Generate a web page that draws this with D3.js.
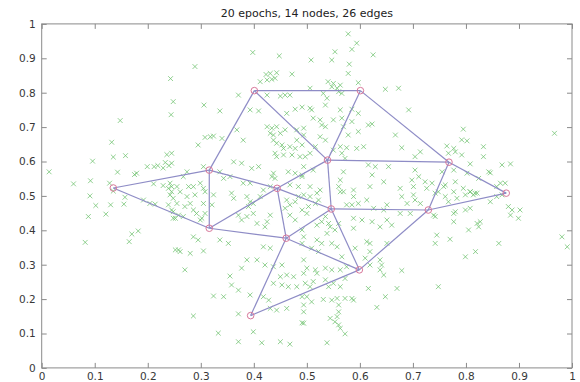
<!DOCTYPE html>
<html><head><meta charset="utf-8">
<script src="https://cdn.jsdelivr.net/npm/d3@7"></script>
<style>body{margin:0;background:#fff}svg{display:block}</style>
</head><body>
<svg id="c" width="580" height="382"></svg>
<script>
const title = "20 epochs, 14 nodes, 26 edges";
const tickValues = [0,0.1,0.2,0.3,0.4,0.5,0.6,0.7,0.8,0.9,1];
const tickLabels = ["0","0.1","0.2","0.3","0.4","0.5","0.6","0.7","0.8","0.9","1"];

// data samples (x, y)
const samplesX = [0.243,0.248,0.244,0.148,0.132,0.135,0.158,0.236,0.096,0.014,0.143,0.175,0.179,0.199,0.212,0.219,0.233,0.240,0.229,0.060,0.092,0.128,0.211,0.229,0.239,0.245,
0.289,0.398,0.448,0.423,0.431,0.443,0.472,0.412,0.425,0.434,0.440,0.371,0.425,0.450,0.459,0.468,0.306,0.336,0.393,0.409,0.478,0.491,0.462,0.368,0.425,0.434,0.443,0.431,0.437,0.450,0.459,0.481,0.494,0.308,0.318,0.324,0.340,0.380,0.295,0.437,0.443,0.453,0.456,0.468,0.478,0.481,0.440,0.443,0.456,0.472,0.487,0.362,0.377,0.409,0.396,0.305,0.437,0.434,0.440,0.465,0.478,0.491,0.274,0.267,0.336,0.343,0.355,0.245,0.245,0.242,0.255,0.286,0.305,0.299,0.380,0.393,0.418,0.431,0.468,0.484,0.261,0.277,0.289,
0.578,0.594,0.585,0.553,0.508,0.547,0.625,0.580,0.578,0.540,0.550,0.563,0.557,0.547,0.597,0.648,0.673,0.506,0.560,0.566,0.531,0.538,0.535,0.506,0.509,0.563,0.585,0.597,0.692,0.512,0.525,0.535,0.528,0.550,0.566,0.585,0.569,0.616,0.623,0.597,0.667,0.494,0.491,0.525,0.535,0.578,0.563,0.575,0.594,0.607,0.679,0.714,0.704,0.516,0.506,0.497,0.550,0.566,0.572,0.616,0.629,0.623,0.654,0.704,0.711,0.698,0.723,0.569,0.563,0.512,0.494,0.491,0.645,0.619,0.569,0.588,0.560,0.676,0.701,0.726,0.736,0.506,0.525,
0.967,0.795,0.792,0.802,0.764,0.777,0.780,0.767,0.833,0.792,0.833,0.808,0.868,0.884,0.755,0.777,0.843,0.846,0.802,0.780,0.761,0.758,0.824,0.865,0.874,0.858,0.795,0.808,0.817,0.777,0.742,
0.091,0.157,0.135,0.102,0.130,0.155,0.088,0.121,0.082,0.165,0.170,0.182,0.192,0.204,0.214,0.242,0.245,0.239,0.248,0.248,0.252,
0.248,0.255,0.245,0.258,0.267,0.252,0.270,0.280,0.274,0.286,0.308,0.324,0.305,0.321,0.308,0.302,0.358,0.362,0.387,0.393,0.390,0.399,0.412,0.371,0.387,0.377,0.399,0.406,0.425,0.431,0.421,0.462,0.459,0.468,0.478,0.468,0.478,0.491,0.484,0.491,0.494,0.491,0.286,0.295,0.336,0.352,0.258,0.261,0.280,0.305,0.418,0.431,0.270,0.387,0.406,0.377,0.421,0.437,0.453,0.355,0.450,0.462,0.475,0.453,0.437,0.481,0.465,0.358,0.371,0.393,0.324,0.343,0.418,0.428,0.431,0.443,0.462,0.491,0.494,0.371,0.286,0.399,0.333,0.371,0.415,0.450,0.468,0.491,0.292,0.299,
0.494,0.506,0.519,0.522,0.516,0.503,0.500,0.563,0.588,0.585,0.575,0.597,0.613,0.626,0.645,0.651,0.679,0.689,0.676,0.695,0.704,0.714,0.701,0.535,0.528,0.541,0.519,0.544,0.553,0.560,0.588,0.604,0.623,0.638,0.651,0.660,0.588,0.538,0.519,0.528,0.547,0.557,0.522,0.509,0.613,0.619,0.591,0.619,0.610,0.651,0.638,0.641,0.638,0.645,0.619,0.494,0.500,0.516,0.519,0.494,0.535,0.547,0.563,0.575,0.566,0.497,0.506,0.512,0.535,0.541,0.550,0.563,0.572,0.616,0.670,0.679,0.648,0.500,0.509,0.531,0.547,0.557,0.572,0.585,0.588,0.632,0.560,0.560,0.494,0.494,0.544,0.557,0.553,0.560,0.563,0.572,0.538,
0.739,0.742,0.748,0.761,0.767,0.783,0.799,0.808,0.814,0.821,0.846,0.858,0.868,0.777,0.780,0.777,0.799,0.808,0.880,0.887,0.884,0.899,0.902,0.821,0.827,0.824,0.805,0.745,0.742,0.770,0.818,0.799,0.862,0.981,0.991,0.748];
const samplesY = [0.841,0.774,0.736,0.719,0.656,0.613,0.617,0.620,0.601,0.570,0.569,0.562,0.566,0.585,0.585,0.588,0.597,0.588,0.581,0.535,0.544,0.537,0.535,0.530,0.522,0.527,
0.876,0.917,0.907,0.853,0.856,0.858,0.854,0.832,0.837,0.839,0.842,0.793,0.793,0.790,0.793,0.793,0.764,0.747,0.750,0.747,0.752,0.758,0.740,0.692,0.701,0.697,0.701,0.682,0.677,0.682,0.692,0.692,0.697,0.670,0.672,0.674,0.667,0.662,0.648,0.662,0.653,0.648,0.638,0.643,0.638,0.662,0.624,0.614,0.619,0.619,0.614,0.599,0.595,0.585,0.580,0.585,0.566,0.556,0.551,0.570,0.566,0.561,0.570,0.556,0.570,0.551,0.556,0.624,0.595,0.537,0.527,0.527,0.522,0.537,0.537,0.537,0.517,0.527,0.532,0.527,0.512,0.527,0.503,
0.971,0.944,0.926,0.919,0.895,0.895,0.910,0.883,0.856,0.832,0.827,0.822,0.813,0.817,0.829,0.810,0.813,0.813,0.803,0.798,0.798,0.784,0.764,0.755,0.750,0.750,0.752,0.740,0.750,0.726,0.721,0.701,0.706,0.721,0.726,0.716,0.701,0.706,0.709,0.687,0.677,0.677,0.648,0.672,0.662,0.677,0.643,0.640,0.638,0.643,0.640,0.628,0.614,0.643,0.624,0.614,0.633,0.624,0.609,0.590,0.585,0.561,0.585,0.575,0.556,0.546,0.541,0.570,0.546,0.575,0.585,0.556,0.541,0.527,0.512,0.517,0.527,0.522,0.527,0.522,0.537,0.527,0.517,
0.682,0.694,0.663,0.660,0.645,0.638,0.628,0.624,0.643,0.619,0.614,0.593,0.590,0.593,0.570,0.575,0.570,0.567,0.566,0.541,0.532,0.527,0.551,0.537,0.537,0.527,0.522,0.512,0.508,0.512,0.508,
0.500,0.496,0.514,0.472,0.474,0.476,0.440,0.447,0.365,0.367,0.389,0.398,0.488,0.478,0.476,0.503,0.512,0.474,0.454,0.435,0.343,
0.493,0.478,0.459,0.444,0.440,0.435,0.469,0.478,0.498,0.459,0.512,0.503,0.478,0.474,0.449,0.435,0.508,0.493,0.498,0.483,0.469,0.478,0.498,0.444,0.440,0.430,0.449,0.420,0.425,0.444,0.410,0.488,0.464,0.474,0.483,0.444,0.430,0.459,0.498,0.401,0.381,0.362,0.381,0.372,0.372,0.362,0.343,0.338,0.333,0.340,0.352,0.348,0.285,0.314,0.314,0.290,0.299,0.294,0.299,0.267,0.265,0.270,0.265,0.241,0.246,0.236,0.236,0.241,0.226,0.212,0.209,0.207,0.207,0.197,0.173,0.168,0.173,0.207,0.183,0.157,0.151,0.105,0.101,0.076,0.073,0.076,0.069,0.131,0.449,0.430,
0.503,0.498,0.508,0.488,0.478,0.469,0.449,0.512,0.498,0.474,0.474,0.478,0.488,0.464,0.459,0.474,0.498,0.478,0.449,0.449,0.488,0.478,0.503,0.440,0.425,0.420,0.415,0.410,0.401,0.420,0.435,0.430,0.425,0.410,0.430,0.415,0.406,0.391,0.372,0.362,0.362,0.352,0.338,0.348,0.367,0.362,0.348,0.338,0.319,0.362,0.314,0.299,0.285,0.270,0.299,0.314,0.290,0.285,0.275,0.275,0.290,0.285,0.285,0.294,0.323,0.246,0.236,0.251,0.256,0.236,0.246,0.236,0.260,0.231,0.231,0.283,0.207,0.207,0.192,0.199,0.197,0.202,0.202,0.202,0.197,0.176,0.183,0.163,0.163,0.130,0.144,0.149,0.134,0.125,0.115,0.099,0.073,
0.444,0.440,0.512,0.498,0.483,0.493,0.503,0.512,0.503,0.508,0.483,0.498,0.503,0.449,0.454,0.425,0.459,0.464,0.469,0.459,0.444,0.435,0.459,0.420,0.425,0.410,0.401,0.386,0.362,0.374,0.338,0.323,0.362,0.381,0.352,0.236];

// network nodes
const nodeX = [0.135,0.316,0.401,0.601,0.539,0.768,0.876,0.444,0.316,0.461,0.546,0.729,0.599,0.394];
const nodeY = [0.523,0.575,0.806,0.806,0.604,0.598,0.508,0.522,0.406,0.377,0.462,0.459,0.285,0.152];
// edges (node index pairs)
const edgeFrom = [0,0,1,1,1,2,2,3,3,4,4,4,5,5,6,7,7,7,8,9,9,9,10,10,11,12];
const edgeTo   = [1,8,8,2,7,3,4,4,5,5,7,10,6,11,11,8,9,10,9,10,12,13,11,12,12,13];

const svg = d3.select("#c");
const L = 41.7, R = 572, T = 23.9, B = 367.9;
const x = d3.scaleLinear().domain([0,1]).range([L,R]);
const y = d3.scaleLinear().domain([0,1]).range([B,T]);
const axisColor = "#8a8a8a";
const font = "'DejaVu Sans', Verdana, sans-serif";

// box
svg.append("rect").attr("x",L).attr("y",T).attr("width",R-L).attr("height",B-T)
  .attr("fill","#fff").attr("stroke",axisColor).attr("stroke-width",1);

function styleAxis(g, showText){
  g.select(".domain").remove();
  g.selectAll(".tick line").attr("stroke",axisColor);
  g.selectAll(".tick text").attr("fill","#383838").style("font-family",font).style("font-size","10.5px");
  if(!showText) g.selectAll(".tick text").remove();
}
const fmt = (d,i)=>tickLabels[i];
svg.append("g").attr("transform",`translate(0,${B})`)
  .call(d3.axisBottom(x).tickValues(tickValues).tickFormat(fmt).tickSizeInner(-5).tickSizeOuter(0).tickPadding(5))
  .call(g=>styleAxis(g,true));
svg.append("g").attr("transform",`translate(0,${T})`)
  .call(d3.axisTop(x).tickValues(tickValues).tickFormat(fmt).tickSizeInner(-5).tickSizeOuter(0))
  .call(g=>styleAxis(g,false));
svg.append("g").attr("transform",`translate(${L},0)`)
  .call(d3.axisLeft(y).tickValues(tickValues).tickFormat(fmt).tickSizeInner(-5).tickSizeOuter(0).tickPadding(6))
  .call(g=>styleAxis(g,true));
svg.append("g").attr("transform",`translate(${R},0)`)
  .call(d3.axisRight(y).tickValues(tickValues).tickFormat(fmt).tickSizeInner(-5).tickSizeOuter(0))
  .call(g=>styleAxis(g,false));

// samples as x markers
const s = 2.4;
const pts = samplesX.map((v,i)=>[v,samplesY[i]]);
svg.append("g").selectAll("path").data(pts).join("path")
  .attr("d", d=>{const cx=x(d[0]), cy=y(d[1]);
    return `M${cx-s},${cy-s}L${cx+s},${cy+s}M${cx-s},${cy+s}L${cx+s},${cy-s}`;})
  .attr("stroke","#6cc06c").attr("stroke-width",1).attr("fill","none").attr("opacity",0.75);

// edges
svg.append("g").selectAll("line").data(edgeFrom.map((a,i)=>[a,edgeTo[i]])).join("line")
  .attr("x1",d=>x(nodeX[d[0]])).attr("y1",d=>y(nodeY[d[0]]))
  .attr("x2",d=>x(nodeX[d[1]])).attr("y2",d=>y(nodeY[d[1]]))
  .attr("stroke","#8e8cc6").attr("stroke-width",1.2);

// nodes
svg.append("g").selectAll("circle").data(nodeX.map((v,i)=>[v,nodeY[i]])).join("circle")
  .attr("cx",d=>x(d[0])).attr("cy",d=>y(d[1])).attr("r",3.3)
  .attr("fill","none").attr("stroke","#d8789a").attr("stroke-width",1);

// title
svg.append("text").attr("x",(L+R)/2).attr("y",16.5).attr("text-anchor","middle")
  .style("font-family",font).style("font-size","11px").attr("fill","#222").text(title);
</script>
</body></html>
